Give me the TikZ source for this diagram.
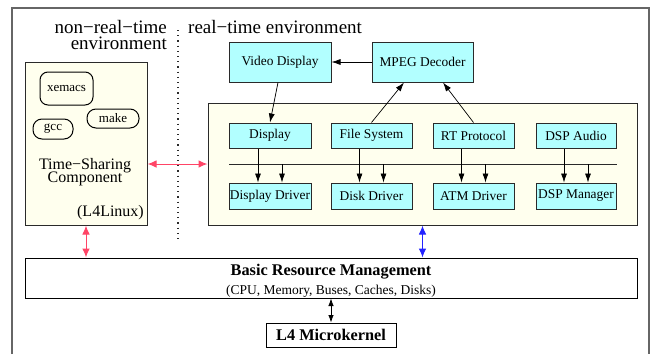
\documentclass[tikz,border=0pt]{standalone}
\usepackage{fontspec}
\setmainfont{Liberation Serif}
\usetikzlibrary{arrows.meta}
\definecolor{boxcyan}{HTML}{B2FFFF}
\definecolor{boxyellow}{HTML}{FFFFEE}
\definecolor{arrred}{HTML}{FF4466}
\definecolor{arrblue}{HTML}{2222FF}
\definecolor{framegray}{HTML}{666666}
\definecolor{edgegray}{HTML}{2A2A2A}
\tikzset{
  boxfont/.style={font=\fontsize{13.4}{15}\selectfont},
  cbox/.style={draw=edgegray, line width=1pt, fill=boxcyan, inner sep=0pt, boxfont},
  ybox/.style={draw=edgegray, line width=1pt, fill=boxyellow, inner sep=0pt},
  pill/.style={draw=black, line width=1pt, fill=boxyellow, inner sep=0pt, font=\fontsize{13}{15}\selectfont},
  arr/.style={-{Latex[length=9pt,width=6pt]}, line width=0.7pt, black},
  darr/.style={{Latex[length=9pt,width=7.5pt]}-{Latex[length=9pt,width=7.5pt]}, line width=1pt},
  lbl/.style={inner sep=0pt},
}
\begin{document}
\begin{tikzpicture}[x=1pt,y=-1pt]
\useasboundingbox (0,0) rectangle (656,354);
% outer frame
\draw[framegray, line width=1.3pt] (12,354) -- (12,8) -- (649,8) -- (649,354);
% dotted separator
\draw[edgegray, line width=1.2pt, dash pattern=on 1.2pt off 4pt] (178,30) -- (178,243);
% headings
\node[lbl, anchor=base east, font=\fontsize{19}{21}\selectfont] (hnrt1) at (167,33) {non−real−time};
\node[lbl, anchor=base east, font=\fontsize{19}{21}\selectfont] (hnrt2) at (167,49.5) {environment};
\node[lbl, anchor=base west, font=\fontsize{19}{21}\selectfont] (hrt) at (188,33) {real−time environment};
% time-sharing component
\node[ybox, minimum width=122pt, minimum height=163pt] (tsc) at (86,143.5) {};
\node[pill, rounded corners=8pt, minimum width=53pt, minimum height=33pt] (xemacs) at (66.5,88.5) {xemacs};
\node[pill, rounded corners=9pt, minimum width=52pt, minimum height=19pt] (make) at (113,118.5) {make};
\node[pill, rounded corners=9pt, minimum width=40pt, minimum height=20pt] (gcc) at (53,129) {gcc};
\node[lbl, anchor=base, font=\fontsize{16}{18}\selectfont] (ts1) at (85,169) {Time−Sharing};
\node[lbl, anchor=base, font=\fontsize{16}{18}\selectfont] (ts2) at (85,182) {Component};
\node[lbl, anchor=base east, font=\fontsize{16}{18}\selectfont] (l4l) at (144,216.5) {(L4Linux)};
% real-time box
\node[ybox, minimum width=429pt, minimum height=122pt] (rtbox) at (422.5,164) {};
\node[cbox, minimum width=102pt, minimum height=40pt] (vd) at (280,62) {Video Display};
\node[cbox, minimum width=101pt, minimum height=40pt] (mpeg) at (422.5,62) {MPEG Decoder};
\node[cbox, minimum width=82pt, minimum height=25pt] (disp) at (270,135.5) {Display};
\node[cbox, minimum width=81pt, minimum height=25pt] (fs) at (371.5,135.5) {File System};
\node[cbox, minimum width=81pt, minimum height=25pt] (rtp) at (473.5,135.5) {RT Protocol};
\node[cbox, minimum width=80pt, minimum height=25pt] (dspa) at (576,135.5) {DSP Audio};
\node[cbox, minimum width=82pt, minimum height=26pt] (dispdrv) at (270,196) {Display Driver};
\node[cbox, minimum width=81pt, minimum height=26pt] (diskdrv) at (371.5,196) {Disk Driver};
\node[cbox, minimum width=81pt, minimum height=26pt] (atmdrv) at (473.5,196) {ATM Driver};
\node[cbox, minimum width=80pt, minimum height=26pt] (dspm) at (576,196) {DSP Manager};
\coordinate (busL) at (229,164);
\coordinate (busR) at (617,164);
\draw[edgegray, line width=0.9pt] (busL) -- (busR);
% vertical arrows in the real-time box
\foreach \up/\dn in {disp/dispdrv, fs/diskdrv, rtp/atmdrv, dspa/dspm}{
  \draw[arr] ([xshift=-12pt]\up.south) -- ([xshift=-12pt]\dn.north);
  \draw[arr] ([xshift=12pt]\dn.north |- busL) -- ([xshift=12pt]\dn.north);
}
% top arrows
\draw[arr] (mpeg.west) -- (vd.east);
\draw[arr] ([xshift=-2pt]vd.south) -- (disp.north);
\draw[arr] (fs.north) -- ([xshift=-18.5pt]mpeg.south);
\draw[arr] (rtp.north) -- ([xshift=20.5pt]mpeg.south);
% basic resource management
\node[draw=black, line width=1pt, fill=white, minimum width=612pt, minimum height=40pt, inner sep=0pt] (brm) at (331,278) {};
\node[lbl, anchor=base, font=\bfseries\fontsize{16.3}{18}\selectfont] (brmt) at (331,275) {Basic Resource Management};
\node[lbl, anchor=base, font=\fontsize{13.5}{15}\selectfont] (brms) at (331,294.5) {(CPU, Memory, Buses, Caches, Disks)};
\node[draw=black, line width=1pt, fill=white, minimum width=130pt, minimum height=24pt, inner sep=0pt, font=\bfseries\fontsize{16.3}{18}\selectfont] (l4) at (331,335) {L4 Microkernel};
% connectors between components
\draw[darr, arrred] (tsc.east |- rtbox.west) -- (rtbox.west);
\draw[darr, arrred] (tsc.south) -- (tsc.south |- brm.north);
\draw[darr, arrblue] (rtbox.south) -- (rtbox.south |- brm.north);
\draw[black, {Latex[length=7.5pt,width=5.5pt]}-{Latex[length=7.5pt,width=5.5pt]}, line width=0.8pt] (brm.south) -- (l4.north);
\end{tikzpicture}
\end{document}
